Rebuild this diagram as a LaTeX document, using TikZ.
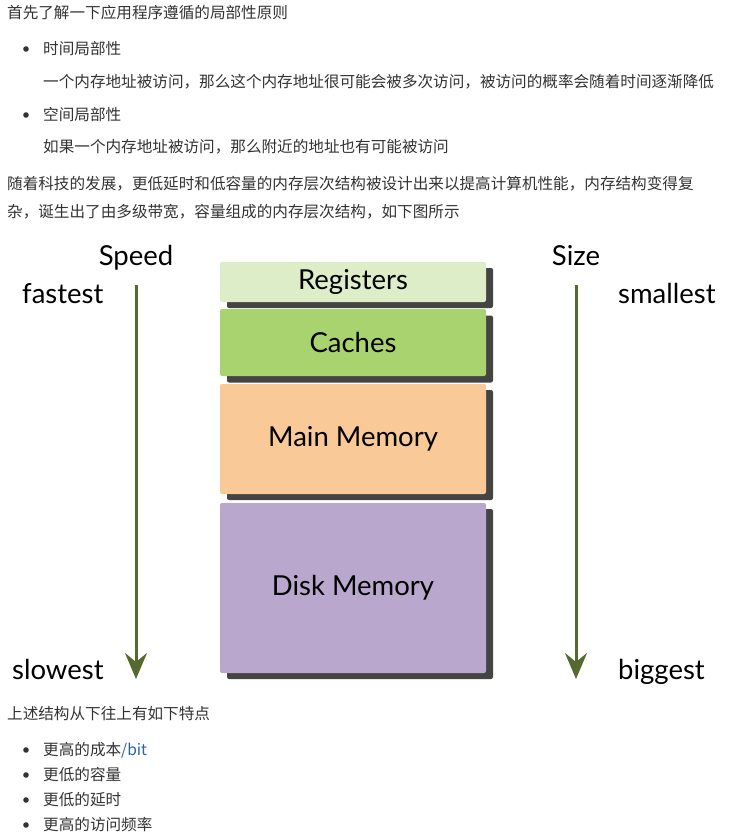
\documentclass[tikz,border=0pt]{standalone}
\usepackage{fontspec}
\setmainfont{Lato}
\newfontfamily\cjk{Noto Sans CJK SC}
\usetikzlibrary{arrows.meta}
\definecolor{txt}{HTML}{333333}
\definecolor{linkc}{HTML}{2F64A0}
\definecolor{regc}{HTML}{DDEDC8}
\definecolor{cachec}{HTML}{A9D36E}
\definecolor{mainc}{HTML}{FAC998}
\definecolor{diskc}{HTML}{B9A7CD}
\definecolor{shadowc}{HTML}{444444}
\definecolor{arrowc}{HTML}{546A2F}
\tikzset{
  cjktext/.style={anchor=west, inner sep=0pt, text=txt, font=\cjk\fontsize{15.6}{18}\selectfont},
  bulletdot/.style={fill=txt},
  memblock/.style={rounded corners=2pt, minimum width=266pt, inner sep=0pt, font=\fontsize{27.5}{30}\selectfont, text=black},
  shadowblock/.style={fill=shadowc, rounded corners=2pt, minimum width=266pt, inner sep=0pt},
  axislabel/.style={inner sep=0pt, font=\fontsize{27.5}{30}\selectfont, text=black},
  axisarrow/.style={draw=arrowc, line width=3pt, -{Stealth[length=26pt, width=22pt, inset=9pt]}},
}
\begin{document}
\begin{tikzpicture}[x=1pt, y=-1pt]
\useasboundingbox[fill=white] (0,0) rectangle (747,840);

% top text
\node[cjktext] (t1) at (7,13) {首先了解一下应用程序遵循的局部性原则};
\fill[bulletdot] (26,49) circle (2.8);
\node[cjktext] (t2) at (43,49) {时间局部性};
\node[cjktext] (t3) at (43,82) {一个内存地址被访问，那么这个内存地址很可能会被多次访问，被访问的概率会随着时间逐渐降低};
\fill[bulletdot] (26,115) circle (2.8);
\node[cjktext] (t4) at (43,115) {空间局部性};
\node[cjktext] (t5) at (43,147) {如果一个内存地址被访问，那么附近的地址也有可能被访问};
\node[cjktext] (t6) at (7,184) {随着科技的发展，更低延时和低容量的内存层次结构被设计出来以提高计算机性能，内存结构变得复};
\node[cjktext] (t7) at (7,212) {杂，诞生出了由多级带宽，容量组成的内存层次结构，如下图所示};

% shadows
\node[shadowblock, minimum height=40pt] (regs) at (360,288) {};
\node[shadowblock, minimum height=67pt] (caches) at (360,349) {};
\node[shadowblock, minimum height=110pt] (mains) at (360,445) {};
\node[shadowblock, minimum height=170pt] (disks) at (360,594) {};

% blocks
\node[memblock, fill=regc, minimum height=40pt] (reg) at (353,282) {Registers};
\node[memblock, fill=cachec, minimum height=67pt] (cache) at (353,342.5) {Caches};
\node[memblock, fill=mainc, minimum height=110pt] (main) at (353,439) {Main Memory};
\node[memblock, fill=diskc, minimum height=170pt] (disk) at (353,588) {Disk Memory};

% axis labels
\node[axislabel, anchor=base] (speed) at (136,265) {Speed};
\node[axislabel, anchor=base west] (fast) at (22,303) {fastest};
\node[axislabel, anchor=base west] (slow) at (12,679) {slowest};
\node[axislabel, anchor=base] (size) at (576,265) {Size};
\node[axislabel, anchor=base west] (small) at (618,303) {smallest};
\node[axislabel, anchor=base west] (big) at (618,679) {biggest};

% arrows
\coordinate (sa) at (136,285);
\coordinate (sb) at (136,679);
\coordinate (za) at (576,285);
\coordinate (zb) at (576,679);
\draw[axisarrow] (sa) -- (sb);
\draw[axisarrow] (za) -- (zb);

% bottom text
\node[cjktext] (b0) at (7,714) {上述结构从下往上有如下特点};
\fill[bulletdot] (26,750) circle (2.8);
\node[cjktext] (b1) at (43,750) {更高的成本\textcolor{linkc}{/bit}};
\fill[bulletdot] (26,775) circle (2.8);
\node[cjktext] (b2) at (43,775) {更低的容量};
\fill[bulletdot] (26,800) circle (2.8);
\node[cjktext] (b3) at (43,800) {更低的延时};
\fill[bulletdot] (26,825) circle (2.8);
\node[cjktext] (b4) at (43,825) {更高的访问频率};
\end{tikzpicture}
\end{document}
